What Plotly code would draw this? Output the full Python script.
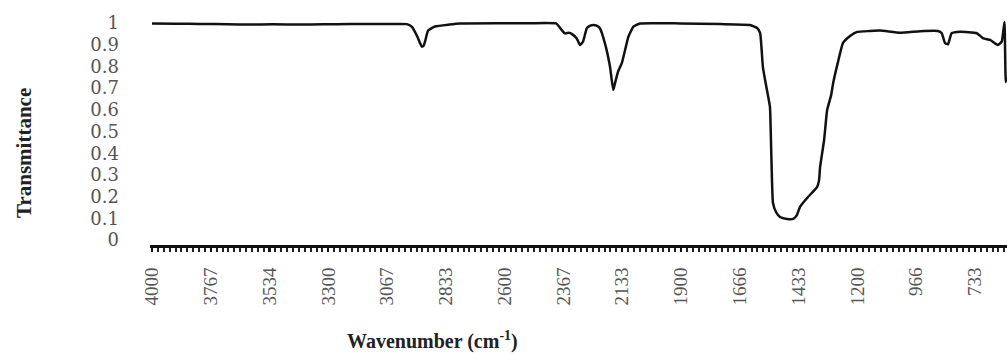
import plotly.graph_objects as go

# IR spectrum: wavenumber (cm^-1) against transmittance
wavenumber = [
    4000, 3900, 3810, 3700, 3611, 3520, 3413, 3320, 3214, 3100, 3016, 2988,
    2968, 2948, 2935, 2929, 2922, 2916, 2904, 2877, 2820, 2777, 2619, 2500,
    2396, 2385, 2374, 2361, 2345, 2334, 2314, 2301, 2289, 2274, 2260, 2248,
    2235, 2222, 2202, 2182, 2169, 2162, 2150, 2135, 2122, 2109, 2089, 2063,
    1904, 1745, 1626, 1598, 1586, 1575, 1559, 1547, 1543, 1539, 1535, 1523,
    1507, 1479, 1455, 1440, 1428, 1396, 1360, 1352, 1348, 1332, 1320, 1304,
    1296, 1277, 1257, 1229, 1201, 1150, 1110, 1031, 951, 880, 865, 852,
    840, 826, 792, 726, 700, 673, 642, 627, 621, 616, 611, 608,
]
transmittance = [
    0.998, 0.997, 0.996, 0.994, 0.993, 0.994, 0.993, 0.994, 0.995, 0.995, 0.996, 0.995,
    0.982, 0.940, 0.905, 0.891, 0.895, 0.915, 0.965, 0.984, 0.993, 0.998, 0.999, 0.999,
    0.998, 0.985, 0.968, 0.952, 0.955, 0.950, 0.929, 0.899, 0.914, 0.976, 0.988, 0.991,
    0.988, 0.976, 0.906, 0.799, 0.691, 0.723, 0.776, 0.815, 0.876, 0.937, 0.983, 0.998,
    0.998, 0.995, 0.991, 0.977, 0.954, 0.797, 0.691, 0.613, 0.461, 0.276, 0.171, 0.129,
    0.106, 0.097, 0.097, 0.115, 0.152, 0.198, 0.244, 0.276, 0.336, 0.461, 0.599, 0.668,
    0.724, 0.820, 0.908, 0.940, 0.959, 0.963, 0.965, 0.955, 0.962, 0.963, 0.953, 0.907,
    0.902, 0.953, 0.960, 0.953, 0.929, 0.922, 0.899, 0.914, 0.960, 1.005, 0.728, 0.750,
]

x_ticks = [4000, 3767, 3534, 3300, 3067, 2833, 2600, 2367, 2133, 1900, 1666, 1433, 1200, 966, 733]
x_tick_labels = [str(v) for v in x_ticks]
y_ticks = [0, 0.1, 0.2, 0.3, 0.4, 0.5, 0.6, 0.7, 0.8, 0.9, 1]
y_tick_labels = ["0", "0.1", "0.2", "0.3", "0.4", "0.5", "0.6", "0.7", "0.8", "0.9", "1"]

fig = go.Figure()
fig.add_trace(go.Scatter(
    x=wavenumber, y=transmittance, mode="lines",
    line=dict(color="#111111", width=2.5, shape="spline", smoothing=0.4),
    hoverinfo="skip", showlegend=False,
))

fig.update_layout(
    width=1007, height=356,
    margin=dict(l=150, r=0, t=10, b=111),
    paper_bgcolor="white", plot_bgcolor="white",
    font=dict(family="Liberation Serif", color="#444444"),
    xaxis=dict(
        range=[4008, 606],
        tickmode="array", tickvals=x_ticks, ticktext=x_tick_labels,
        tickangle=-90, tickfont=dict(family="Liberation Serif", size=19, color="#555555"),
        ticks="outside", ticklen=4, tickwidth=1.5, tickcolor="#111111",
        ticklabelstandoff=8,
        showline=True, linecolor="#111111", linewidth=3,
        showgrid=False, zeroline=False,
        minor=dict(tickmode="linear", tick0=4000, dtick=23.3333, ticks="outside",
                   ticklen=4, tickwidth=1.5, tickcolor="#222222", showgrid=False),
    ),
    yaxis=dict(
        range=[-0.023, 1.06],
        tickmode="array", tickvals=y_ticks, ticktext=y_tick_labels,
        tickfont=dict(family="DejaVu Serif", size=18, color="#555555"),
        ticks="", ticklabelstandoff=30,
        showline=False, showgrid=False, zeroline=False,
    ),
    annotations=[
        dict(text="<b>Wavenumber (cm<sup>-1</sup>)</b>", xref="paper", yref="paper",
             x=(432 - 150) / 857, y=-(340 - 245) / 235, xanchor="center", yanchor="middle",
             showarrow=False, font=dict(family="Liberation Serif", size=20, color="#222222")),
        dict(text="<b>Transmittance</b>", xref="paper", yref="paper",
             x=-(150 - 24) / 857, y=(245 - 153) / 235, xanchor="center", yanchor="middle",
             textangle=-90, showarrow=False,
             font=dict(family="Liberation Serif", size=21, color="#222222")),
    ],
)

fig.write_html("out.html")
